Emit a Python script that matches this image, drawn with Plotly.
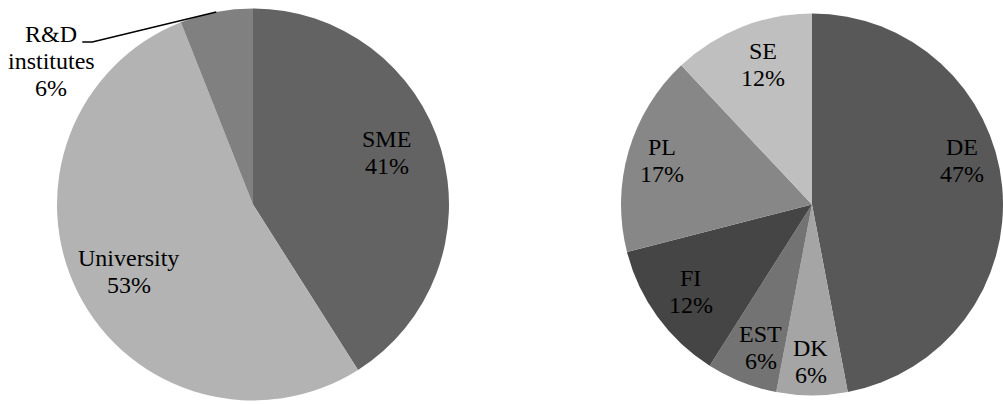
import math
import plotly.graph_objects as go

# ---- data ----
org_labels = ["SME", "University", "R&D institutes"]
org_pct = [41, 53, 6]
org_colors = ["#636363", "#b3b3b3", "#808080"]

country_labels = ["DE", "DK", "EST", "FI", "PL", "SE"]
country_pct = [47, 6, 6, 12, 17, 12]
country_colors = ["#585858", "#a5a5a5", "#737373", "#454545", "#878787", "#bfbfbf"]

# ---- layout constants (pixels) ----
W, H = 1003, 404
LEFT_C, LEFT_R = (253, 204.5), 196
RIGHT_C, RIGHT_R = (812, 204.5), 191
LINE_GAP = 27

# per-label placement tweaks (radial fraction, angle delta in degrees)
org_label_r = [0.733, 0.72, None]
org_label_dt = [-5.1, -1.2, 0]
country_label_r = [0.818, 0.821, 0.796, 0.782, 0.821, 0.779]
country_label_dt = [-10.8, 0.5, -2.0, 0.4, 0.2, 2.2]


def px_to_paper(x, y):
    return x / W, 1 - y / H


def domain(c, R):
    x0, x1 = (c[0] - R) / W, (c[0] + R) / W
    y0, y1 = 1 - (c[1] + R) / H, 1 - (c[1] - R) / H
    return dict(x=[max(0, x0), min(1, x1)], y=[max(0, y0), min(1, y1)])


def mid_angles(vals):
    tot = sum(vals)
    out, cum = [], 0
    for v in vals:
        out.append((cum + v / 2) / tot * 360)
        cum += v
    return out


def pct(v, vals):
    return f"{round(100 * v / sum(vals))}%"


fig = go.Figure()
# empty cartesian trace (hidden axes)
fig.add_trace(go.Scatter(x=[], y=[], showlegend=False, hoverinfo="skip"))
for labels, vals, colors, c, R in [
    (org_labels, org_pct, org_colors, LEFT_C, LEFT_R),
    (country_labels, country_pct, country_colors, RIGHT_C, RIGHT_R),
]:
    fig.add_trace(go.Pie(
        labels=labels, values=vals, sort=False, direction="clockwise",
        rotation=0, marker=dict(colors=colors, line=dict(width=0)),
        textinfo="none", hoverinfo="label+percent", domain=domain(c, R),
        showlegend=False,
    ))

annotations = []
shapes = []


def add_block(lines, cx, cy):
    n = len(lines)
    for i, t in enumerate(lines):
        y = cy + (i - (n - 1) / 2) * LINE_GAP
        xp, yp = px_to_paper(cx, y)
        annotations.append(dict(x=xp, y=yp, xref="paper", yref="paper", text=t,
                                showarrow=False, xanchor="center", yanchor="middle",
                                font=dict(family="Liberation Serif", size=24, color="black")))


def inside_labels(labels, vals, c, R, rs, dts):
    for lab, v, ang, r, dt in zip(labels, vals, mid_angles(vals), rs, dts):
        if r is None:
            continue
        th = math.radians(ang + dt)
        x = c[0] + r * R * math.sin(th)
        y = c[1] - r * R * math.cos(th)
        add_block([lab, pct(v, vals)], x, y)


inside_labels(org_labels, org_pct, LEFT_C, LEFT_R, org_label_r, org_label_dt)
inside_labels(country_labels, country_pct, RIGHT_C, RIGHT_R, country_label_r, country_label_dt)

# outside label with leader line for R&D institutes
idx = 2
ang = math.radians(mid_angles(org_pct)[idx])
ex = LEFT_C[0] + LEFT_R * math.sin(ang)
ey = LEFT_C[1] - LEFT_R * math.cos(ang)
kx, ky = ex - 124, ey + 30
tx = kx - 10
path = f"M {ex/W},{1-ey/H} L {kx/W},{1-ky/H} L {tx/W},{1-ky/H}"
shapes.append(dict(type="path", xref="paper", yref="paper", path=path,
                   line=dict(color="black", width=1.5)))
add_block(["R&D", "institutes", pct(org_pct[idx], org_pct)], kx - 41, ky + 19.5)

fig.update_layout(
    width=W, height=H, autosize=False,
    margin=dict(l=0, r=0, t=0, b=0),
    paper_bgcolor="white", plot_bgcolor="white",
    xaxis=dict(visible=False), yaxis=dict(visible=False),
    annotations=annotations, shapes=shapes,
)

fig.write_html("out.html")
